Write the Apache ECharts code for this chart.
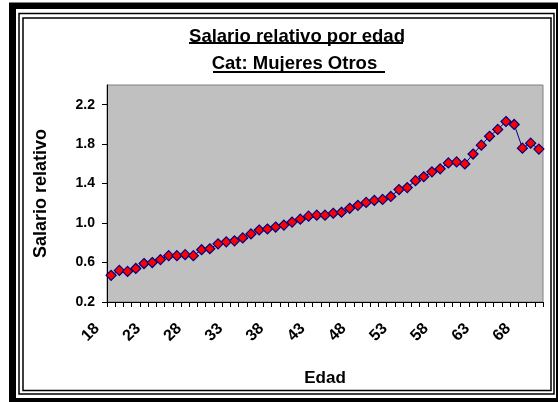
<!DOCTYPE html>
<html>
<head>
<meta charset="utf-8">
<script src="https://cdn.jsdelivr.net/npm/echarts@6/dist/echarts.min.js"></script>
<style>
  html, body { margin: 0; padding: 0; background: #fff; }
  #myChart { width: 558px; height: 402px; }
</style>
</head>
<body>
<div id="myChart"></div>
<script>
// datos
const edades = ['18','19','20','21','22','23','24','25','26','27','28','29','30','31','32','33','34','35',
  '36','37','38','39','40','41','42','43','44','45','46','47','48','49','50','51','52','53',
  '54','55','56','57','58','59','60','61','62','63','64','65','66','67','68','69','70']
const salarioRelativo = [0.47, 0.52, 0.51, 0.54, 0.59, 0.60, 0.63, 0.67, 0.67, 0.68, 0.67, 0.73, 0.74,
  0.79, 0.81, 0.82, 0.85, 0.89, 0.93, 0.94, 0.96, 0.98, 1.01, 1.04, 1.07, 1.08, 1.08, 1.10, 1.11,
  1.15, 1.18, 1.21, 1.23, 1.24, 1.27, 1.34, 1.36, 1.43, 1.47, 1.52, 1.55, 1.61, 1.62, 1.60, 1.70,
  1.79, 1.88, 1.95, 2.03, 2.00, 1.76, 1.81, 1.75]
const yTicks = [0.2, 0.6, 1.0, 1.4, 1.8, 2.2]

const font = 'Liberation Sans, Arial, sans-serif'
const myChart = echarts.init(document.getElementById('myChart'), null, { renderer: 'canvas' })

const option = {
  animation: false,
  backgroundColor: '#fff',
  title: {
    text: 'Salario relativo por edad\nCat: Mujeres Otros ',
    left: 292,
    top: 18,
    textAlign: 'center',
    textStyle: { fontFamily: font, fontSize: 18.5, fontWeight: 'bold', color: '#000', lineHeight: 27 }
  },
  graphic: [
    // marco exterior negro
    { type: 'rect', shape: { x: 9, y: 2.5, width: 549, height: 399.5 }, style: { fill: '#000' }, z: -10 },
    { type: 'rect', shape: { x: 16, y: 9, width: 540, height: 389 }, style: { fill: '#fff' }, z: -9 },
    { type: 'rect', shape: { x: 19, y: 13.5, width: 535, height: 380.5 }, style: { fill: 'none', stroke: '#000', lineWidth: 1.5 }, z: -8 },
    { type: 'rect', shape: { x: 23, y: 18, width: 528, height: 372.5 }, style: { fill: 'none', stroke: '#000', lineWidth: 1.5 }, z: -8 },
    // subrayado del titulo
    { type: 'line', shape: { x1: 189, y1: 43, x2: 403, y2: 43 }, style: { stroke: '#000', lineWidth: 2 } },
    { type: 'line', shape: { x1: 213, y1: 72, x2: 385, y2: 72 }, style: { stroke: '#000', lineWidth: 2 } }
  ],
  grid: {
    left: 107,
    right: 15,
    top: 85,
    bottom: 100,
    show: true,
    backgroundColor: '#C0C0C0',
    borderColor: '#808080',
    borderWidth: 1
  },
  xAxis: {
    type: 'category',
    data: edades,
    boundaryGap: true,
    name: 'Edad',
    nameLocation: 'middle',
    nameGap: 68,
    nameTextStyle: { fontFamily: font, fontSize: 17, fontWeight: 'bold', color: '#000' },
    axisLine: { lineStyle: { color: '#000', width: 1 } },
    axisTick: { show: true, interval: 0, length: 5, lineStyle: { color: '#000' } },
    axisLabel: {
      interval: 4,
      rotate: 45,
      margin: 10,
      padding: [0, 20, 0, 0],
      fontFamily: font,
      fontSize: 16,
      fontWeight: 'bold',
      color: '#000'
    },
    splitLine: { show: false }
  },
  yAxis: {
    type: 'value',
    min: 0.2,
    max: 2.4,
    interval: 0.4,
    name: 'Salario relativo',
    nameLocation: 'middle',
    nameGap: 57,
    nameTextStyle: { fontFamily: font, fontSize: 18, fontWeight: 'bold', color: '#000' },
    axisLine: { show: true, lineStyle: { color: '#000', width: 1 } },
    axisTick: { show: true, length: 5, customValues: yTicks, lineStyle: { color: '#000' } },
    axisLabel: {
      customValues: yTicks,
      margin: 12,
      fontFamily: font,
      fontSize: 14,
      fontWeight: 'bold',
      color: '#000',
      formatter: v => v.toFixed(1)
    },
    splitLine: { show: false }
  },
  series: [{
    type: 'line',
    data: salarioRelativo,
    symbol: 'diamond',
    symbolSize: 10,
    showAllSymbol: true,
    lineStyle: { color: '#000080', width: 1 },
    itemStyle: { color: '#FF0000', borderColor: '#000080', borderWidth: 1.2 }
  }]
}

myChart.setOption(option)
</script>
</body>
</html>
